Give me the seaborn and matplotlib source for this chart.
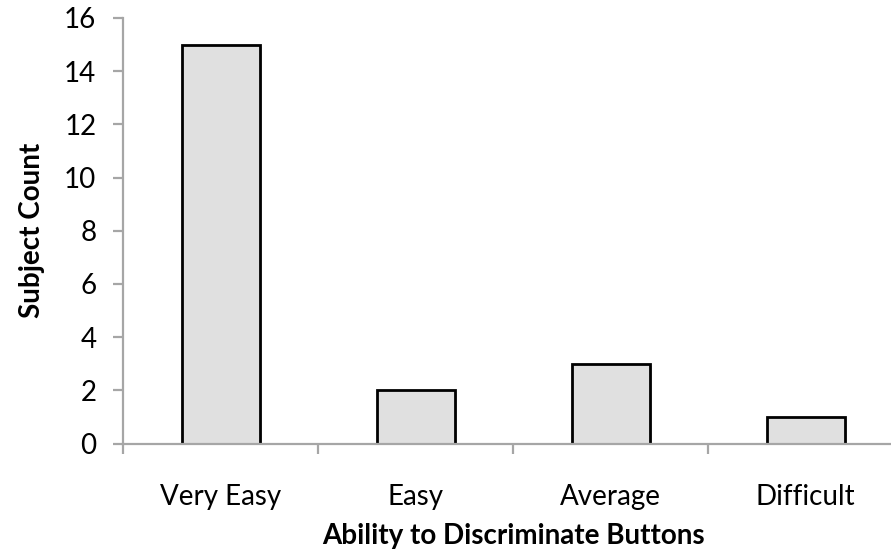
import matplotlib
matplotlib.use("Agg")
import matplotlib.pyplot as plt
import matplotlib.patheffects as pe
import seaborn as sns
import pandas as pd

categories = ["Very Easy", "Easy", "Average", "Difficult"]
counts = [15, 2, 3, 1]
y_ticks = [0, 2, 4, 6, 8, 10, 12, 14, 16]

sns.set_theme(style="white")
plt.rcParams["font.family"] = ["Lato", "DejaVu Sans"]

W, H = 891, 556
fig = plt.figure(figsize=(W / 100, H / 100), dpi=100)
# plot area runs past the right edge of the figure
left, right, top, bottom = 123, 903, 18, 443.5
ax = fig.add_axes([left / W, 1 - bottom / H, (right - left) / W, (bottom - top) / H])

df = pd.DataFrame({"category": categories, "count": counts})
sns.barplot(data=df, x="category", y="count", ax=ax, color="#e0e0e0",
            edgecolor="black", linewidth=2, width=0.4, saturation=1)
for p in ax.patches:
    p.set_path_effects([pe.SimplePatchShadow(offset=(1.5, -1.5), shadow_rgbFace="#999999", alpha=0.4), pe.Normal()])

ax.set_xlim(-0.5, len(categories) - 0.5)
ax.set_ylim(0, 16)
ax.set_yticks(y_ticks)
ax.set_yticklabels([str(v) for v in y_ticks], fontsize=20, color="black")

spine_c = "#a6a6a6"
for s in ["top", "right"]:
    ax.spines[s].set_visible(False)
for s in ["left", "bottom"]:
    ax.spines[s].set_color(spine_c)
    ax.spines[s].set_linewidth(1.6)

ax.tick_params(axis="y", which="major", direction="out", length=7.2, width=1.6,
               color=spine_c, left=True, pad=12)
# category labels at centers, tick marks at category boundaries
ax.set_xticks(range(len(categories)))
ax.set_xticklabels(categories, fontsize=20, color="black")
ax.tick_params(axis="x", which="major", length=0, pad=29.5)
ax.set_xticks([i - 0.5 for i in range(len(categories) + 1)], minor=True)
ax.tick_params(axis="x", which="minor", direction="out", length=7.2, width=1.6,
               color=spine_c, bottom=True)

ax.set_xlabel("Ability to Discriminate Buttons", fontsize=20, fontweight="bold",
              color="black", labelpad=9)
ax.set_ylabel("Subject Count", fontsize=20, fontweight="bold", color="black",
              labelpad=14)

fig.savefig("out.png", dpi=100, facecolor="white")
